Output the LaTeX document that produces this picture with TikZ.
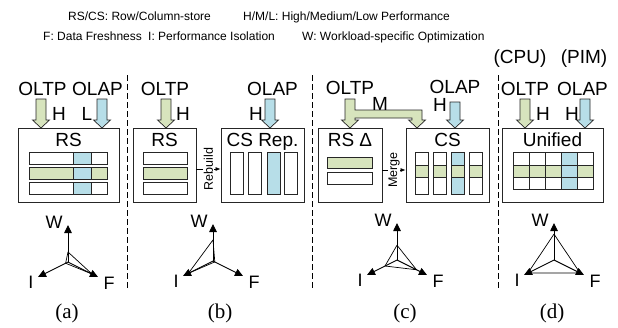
\documentclass[tikz,border=0pt]{standalone}
\usepackage{fontspec}
\setmainfont{Liberation Sans}
\newfontfamily\capfont{Liberation Serif}
\usetikzlibrary{arrows.meta,positioning,calc}

\definecolor{rowgreen}{HTML}{D7E4BD}
\definecolor{colblue}{HTML}{B7DEE8}
\definecolor{lineclr}{HTML}{262626}

% fat block arrow pointing down onto a box (top edge of box at y=128)
\newcommand{\fatarrow}[3]{%
  \draw[fat, fill=#1] (#2-5,#3) -- (#2+5,#3) -- (#2+5,120) -- (#2+8.5,120)
    -- (#2,128) -- (#2-8.5,120) -- (#2-5,120) -- cycle;}

% W/I/F triangle: name, centre x, centre y, W, I, F
\newcommand{\radar}[6]{%
  \begin{scope}[shift={(#2,#3)}]
    \coordinate (#1c) at (0,0);
    \coordinate (#1w) at (0,-37);
    \coordinate (#1i) at (-30,15);
    \coordinate (#1f) at (30,15);
    \draw[axis] (#1c) -- (#1w);
    \draw[axis] (#1c) -- (#1i);
    \draw[axis] (#1c) -- (#1f);
    \draw[tri] ($(#1c)!#4!(#1w)$) -- ($(#1c)!#5!(#1i)$) -- ($(#1c)!#6!(#1f)$) -- cycle;
    \node[axlbl] (#1W) at (-14,-40) {W};
    \node[axlbl] (#1I) at (-37,20) {I};
    \node[axlbl] (#1F) at (41,21) {F};
  \end{scope}}

\begin{document}
\begin{tikzpicture}[x=1pt,y=-1pt,
  box/.style={draw=lineclr, line width=0.8pt, fill=white, inner sep=0pt},
  cell/.style={draw=lineclr, line width=0.8pt},
  fat/.style={draw=lineclr, line width=0.7pt, line join=miter},
  big/.style={font=\fontsize{19}{19}\selectfont, inner sep=0pt},
  legend/.style={font=\fontsize{12}{12}\selectfont, inner sep=0pt, anchor=base west},
  axlbl/.style={font=\fontsize{18}{18}\selectfont, inner sep=0pt},
  axis/.style={line width=0.9pt, -{Triangle[length=8pt,width=7.5pt]}},
  tri/.style={line width=0.7pt, line join=round},
  link/.style={line width=0.7pt, -{Latex[length=5pt,width=4pt]}},
  vlabel/.style={font=\fontsize{12.5}{12.5}\selectfont, rotate=90, fill=white, inner sep=0.6pt},
  divider/.style={line width=0.8pt, dash pattern=on 6pt off 3pt},
  capt/.style={font=\capfont\fontsize{21}{21}\selectfont, inner sep=0pt}]
\useasboundingbox (0,0) rectangle (618,327);

% legend
\node[legend] (legRS) at (68,20) {RS/CS: Row/Column-store};
\node[legend] (legHML) at (243,20) {H/M/L: High/Medium/Low Performance};
\node[legend] (legF) at (43,40.7) {F: Data Freshness};
\node[legend] (legI) at (148,40.7) {I: Performance Isolation};
\node[legend] (legW) at (302,40.7) {W: Workload-specific Optimization};

% dividers
\draw[divider] (127,75) -- (127,289);
\draw[divider] (312,75) -- (312,289);
\draw[divider] (498,75) -- (498,289);

% (a) row store
\node[box, minimum width=101pt, minimum height=74pt] (rsA) at (68.5,165) {};
\node[big, anchor=base] (rsAt) at ([yshift=-19pt]rsA.north) {RS};
\foreach \y/\c in {152/white,167/rowgreen,182/white}{
  \draw[cell, fill=\c] (29,\y) rectangle (107,\y+12);
  \draw[cell, fill=colblue] (73,\y) rectangle (91,\y+12);
}
\fatarrow{rowgreen}{41}{99}
\fatarrow{colblue}{102}{99}
\node[big, anchor=base] (oltpA) at (42.5,95.5) {OLTP};
\node[big, anchor=base] (olapA) at (97.5,95.5) {OLAP};
\node[big, anchor=base] (perfA1) at (59,120) {H};
\node[big, anchor=base] (perfA2) at (87,120) {L};

% (b) row store + column replica
\node[box, minimum width=63pt, minimum height=74pt] (rsB) at (164.5,165) {};
\node[big, anchor=base] (rsBt) at ([yshift=-19pt]rsB.north) {RS};
\foreach \y/\c in {152/white,167/rowgreen,182/white}
  \draw[cell, fill=\c] (143,\y) rectangle (187,\y+12);
\node[box, minimum width=83pt, minimum height=74pt] (csB) at (262.5,165) {};
\node[big, anchor=base] (csBt) at ([yshift=-19pt]csB.north) {CS Rep.};
\foreach \x/\c in {230/white,248/white,267/colblue,284/white}
  \draw[cell, fill=\c] (\x,152) rectangle (\x+13,194);
\draw[link] ([yshift=-4pt]rsB.east) -- node[vlabel] (rebuild) {Rebuild} ([yshift=-4pt]csB.west);
\fatarrow{rowgreen}{166}{99}
\fatarrow{colblue}{270}{99}
\node[big, anchor=base] (oltpB) at (165,95.5) {OLTP};
\node[big, anchor=base] (olapB) at (272.5,95.5) {OLAP};
\node[big, anchor=base] (perfB1) at (183,120) {H};
\node[big, anchor=base] (perfB2) at (256,120) {H};

% (c) delta + column store
\node[box, minimum width=64pt, minimum height=74pt] (rsdC) at (350,165) {};
\node[big, anchor=base] (rsdCt) at ([yshift=-19pt]rsdC.north) {RS Δ};
\draw[cell, fill=rowgreen] (327,157) rectangle (372,168);
\draw[cell, fill=white] (327,172) rectangle (372,184);
\node[box, minimum width=83pt, minimum height=74pt] (csC) at (447.5,165) {};
\node[big, anchor=base] (csCt) at ([yshift=-19pt]csC.north) {CS};
\foreach \x/\c in {415/white,433/white,451/colblue,469/white}{
  \draw[cell, fill=\c] (\x,152) rectangle (\x+13,165);
  \draw[cell, fill=rowgreen] (\x,165) rectangle (\x+13,177);
  \draw[cell, fill=\c] (\x,177) rectangle (\x+13,194);
}
\draw[link] ([yshift=-5pt]rsdC.east) -- node[vlabel] (merge) {Merge} ([yshift=-5pt]csC.west);
\draw[fat, fill=rowgreen] (345,99) -- (355,99) -- (355,110) -- (422,110) -- (422,120)
  -- (425.5,120) -- (417,128) -- (408.5,120) -- (412,120) -- (412,118) -- (355,118)
  -- (355,120) -- (358.5,120) -- (350,128) -- (341.5,120) -- (345,120) -- cycle;
\fatarrow{colblue}{455}{102}
\node[big, anchor=base] (oltpC) at (350,94.5) {OLTP};
\node[big, anchor=base] (olapC) at (455,93.5) {OLAP};
\node[big, anchor=base] (perfC1) at (380,110) {M};
\node[big, anchor=base] (perfC2) at (440,111.5) {H};

% (d) unified store
\node[box, minimum width=101pt, minimum height=74pt] (uniD) at (552.5,165) {};
\node[big, anchor=base] (uniDt) at ([yshift=-19pt]uniD.north) {Unified};
\foreach \x/\c/\m in {513/white/rowgreen,529/white/rowgreen,545/white/rowgreen,561/colblue/colblue,577/white/rowgreen}{
  \draw[cell, fill=\c] (\x,152) rectangle (\x+16,165);
  \draw[cell, fill=\m] (\x,165) rectangle (\x+16,177);
  \draw[cell, fill=\c] (\x,177) rectangle (\x+16,189);
}
\fatarrow{rowgreen}{525}{99}
\fatarrow{colblue}{585}{99}
\node[big, anchor=base] (cpuD) at (520,63) {(CPU)};
\node[big, anchor=base] (pimD) at (584,63) {(PIM)};
\node[big, anchor=base] (oltpD) at (525,95.5) {OLTP};
\node[big, anchor=base] (olapD) at (582.5,95.5) {OLAP};
\node[big, anchor=base] (perfD1) at (543,120) {H};
\node[big, anchor=base] (perfD2) at (572,120) {H};

% W/I/F triangles
\radar{ra}{68}{262}{0.27}{0.08}{0.8}
\radar{rb}{213}{261}{0.57}{0.82}{0.06}
\radar{rc}{397}{260}{0.4}{0.4}{0.65}
\radar{rd}{554}{260}{0.7}{0.87}{0.87}

% captions
\node[capt] (capA) at (67,313) {(a)};
\node[capt] (capB) at (220,313) {(b)};
\node[capt] (capC) at (405,313) {(c)};
\node[capt] (capD) at (552,313) {(d)};
\end{tikzpicture}
\end{document}
